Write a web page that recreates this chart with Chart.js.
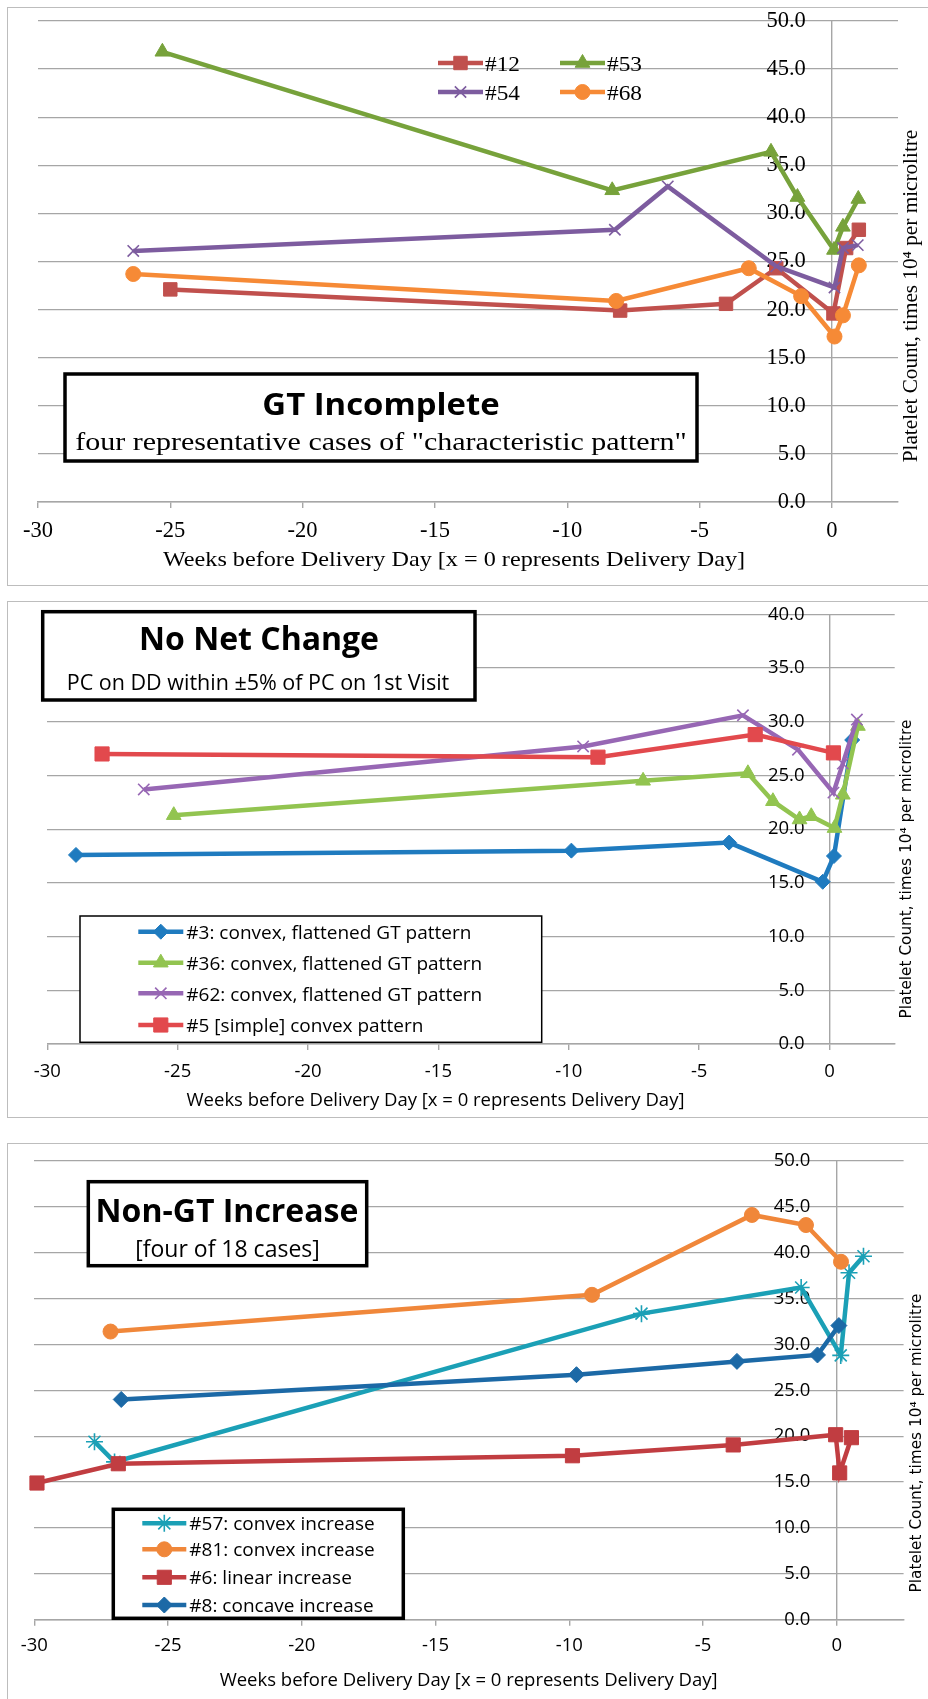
<!DOCTYPE html>
<html>
<head>
<meta charset="utf-8">
<script src="https://cdn.jsdelivr.net/npm/chart.js@4.4.1/dist/chart.umd.min.js"></script>
<style>
  html, body { margin: 0; padding: 0; background: #fff; width: 928px; height: 1699px; overflow: hidden; }
  .frame { position: absolute; border: 1.5px solid #bdbdbd; box-sizing: border-box; }
  canvas { position: absolute; left: 0; }
</style>
</head>
<body>
<div class="frame" style="left:7px;top:7px;width:940px;height:579px"></div>
<div class="frame" style="left:7px;top:601px;width:940px;height:517px"></div>
<div class="frame" style="left:7px;top:1143px;width:940px;height:570px"></div>
<canvas id="c1" width="928" height="590" style="top:0"></canvas>
<canvas id="c2" width="928" height="540" style="top:590px"></canvas>
<canvas id="c3" width="928" height="569" style="top:1130px"></canvas>
<script>
// ─── Data ─────────────────────────────────────────────────────────────────────

const xTicks = [-30, -25, -20, -15, -10, -5, 0];
const yTicksGT = [0, 5, 10, 15, 20, 25, 30, 35, 40, 45, 50];
const yTicksNC = [0, 5, 10, 15, 20, 25, 30, 35, 40];
const yTicksNG = [0, 5, 10, 15, 20, 25, 30, 35, 40, 45, 50];

// GT Incomplete
const gtLabels = ['#12', '#53', '#54', '#68'];
const gt12X = [-25.0, -8.0, -4.0, -2.1, 0.06, 0.54, 1.02];
const gt12Y = [22.1, 19.9, 20.6, 24.3, 19.6, 26.4, 28.3];
const gt53X = [-25.3, -8.3, -2.3, -1.3, 0.08, 0.42, 1.0];
const gt53Y = [46.8, 32.4, 36.4, 31.7, 26.2, 28.6, 31.5];
const gt54X = [-26.4, -8.2, -6.2, -2.1, 0.1, 0.42, 0.98];
const gt54Y = [26.1, 28.3, 32.8, 24.5, 22.3, 26.4, 26.7];
const gt68X = [-26.4, -8.15, -3.14, -1.16, 0.1, 0.42, 1.02];
const gt68Y = [23.7, 20.9, 24.3, 21.4, 17.2, 19.4, 24.6];

// No Net Change
const ncLabels = ['#3: convex, flattened GT pattern', '#36: convex, flattened GT pattern',
  '#62: convex, flattened GT pattern', '#5 [simple] convex pattern'];
const nc3X = [-28.9, -9.9, -3.85, -0.26, 0.17, 0.87];
const nc3Y = [17.6, 18.0, 18.75, 15.1, 17.5, 28.3];
const nc36X = [-25.15, -7.15, -3.13, -2.17, -1.15, -0.7, 0.19, 0.51, 1.09];
const nc36Y = [21.3, 24.5, 25.2, 22.6, 20.9, 21.2, 20.1, 23.2, 29.6];
const nc62X = [-26.3, -9.45, -3.32, -1.21, 0.15, 0.51, 1.05];
const nc62Y = [23.7, 27.7, 30.6, 27.4, 23.4, 26.1, 30.2];
const nc5X = [-27.9, -8.88, -2.85, 0.15];
const nc5Y = [27.0, 26.7, 28.8, 27.1];

// Non-GT Increase
const ngLabels = ['#57: convex increase', '#81: convex increase', '#6: linear increase', '#8: concave increase'];
const ng57X = [-27.75, -27.0, -7.3, -1.33, 0.15, 0.46, 1.0];
const ng57Y = [19.4, 17.2, 33.35, 36.2, 28.8, 37.8, 39.6];
const ng81X = [-27.15, -9.15, -3.17, -1.15, 0.16];
const ng81Y = [31.4, 35.4, 44.1, 43.0, 39.0];
const ng6X = [-29.9, -26.86, -9.88, -3.87, -0.04, 0.11, 0.55];
const ng6Y = [14.9, 17.0, 17.87, 19.05, 20.16, 16.0, 19.84];
const ng8X = [-26.75, -9.73, -3.73, -0.72, 0.08];
const ng8Y = [24.0, 26.7, 28.15, 28.85, 32.05];

const yTitle = 'Platelet Count, times 10\u2074 per microlitre';
const xTitle = 'Weeks before Delivery Day [x = 0 represents Delivery Day]';

// ─── Helpers ──────────────────────────────────────────────────────────────────

const GRID = '#a6a6a6';
const SERIF = '"Liberation Serif"';
const SANS = '"Open Sans"';
const XAXIS_H = 40;

function pts(xs, ys) {
  return xs.map((x, i) => ({ x, y: ys[i] }));
}

function series(label, xs, ys, color, style, radius, bw) {
  return {
    label, data: pts(xs, ys),
    borderColor: color, backgroundColor: color,
    pointBackgroundColor: color, pointBorderColor: color,
    borderWidth: 4.5, tension: 0, clip: false,
    pointStyle: style, pointRadius: radius, pointHoverRadius: radius,
    pointBorderWidth: bw || 1,
  };
}

// boxes, texts and the legend drawn on top of the chart
const overlay = {
  id: 'overlay',
  // y tick labels sit just left of the x = 0 line, as in Excel
  afterLayout(chart, args, o) {
    const y = chart.scales.y;
    const px = chart.scales.x.getPixelForValue(0) - o.yGap;
    y.left = px - 80;
    y.right = px;
  },
  afterDraw(chart, args, o) {
    const ctx = chart.ctx;
    ctx.save();
    (o.boxes || []).forEach(b => {
      ctx.fillStyle = '#fff';
      ctx.fillRect(b.x, b.y, b.w, b.h);
      ctx.lineWidth = b.lw;
      ctx.strokeStyle = '#000';
      ctx.strokeRect(b.x, b.y, b.w, b.h);
    });
    ctx.fillStyle = '#000';
    (o.texts || []).forEach(t => {
      ctx.font = t.font;
      ctx.textAlign = t.align || 'center';
      ctx.textBaseline = t.base || 'alphabetic';
      ctx.save();
      ctx.translate(t.x, t.y);
      if (t.rot) ctx.rotate(t.rot);
      if (t.sx) ctx.scale(t.sx, 1);
      ctx.fillText(t.text, 0, 0);
      ctx.restore();
    });
    const lg = o.legend;
    chart.data.datasets.forEach((ds, i) => {
      const e = lg.items[i];
      ctx.strokeStyle = ds.borderColor;
      ctx.fillStyle = ds.borderColor;
      ctx.lineWidth = 4.5;
      ctx.beginPath();
      ctx.moveTo(e.x, e.y);
      ctx.lineTo(e.x + lg.len, e.y);
      ctx.stroke();
      ctx.lineWidth = ds.pointBorderWidth;
      Chart.helpers.drawPoint(ctx, { pointStyle: ds.pointStyle, radius: ds.pointRadius, rotation: 0, borderWidth: ds.pointBorderWidth }, e.x + lg.len / 2, e.y);
      ctx.fillStyle = '#000';
      ctx.font = lg.font;
      ctx.textAlign = 'left';
      ctx.textBaseline = 'alphabetic';
      ctx.save();
      ctx.translate(e.x + lg.len + lg.gap, e.y + lg.dy);
      ctx.scale(lg.sx || 1, 1);
      ctx.fillText(ds.label, 0, 0);
      ctx.restore();
    });
    ctx.restore();
  },
};

function makeChart(id, cfg) {
  const canvas = document.getElementById(id);
  const H = canvas.height;
  const tickFont = { family: cfg.tickFamily, size: cfg.tickSize };
  cfg.datasets.forEach((d, i) => { d.order = cfg.datasets.length - i; });
  return new Chart(canvas, {
    type: 'line',
    data: { datasets: cfg.datasets },
    plugins: [overlay],
    options: {
      responsive: false,
      animation: false,
      events: [],
      layout: {
        padding: { left: cfg.area.l, right: 928 - cfg.area.r, top: cfg.area.t, bottom: H - cfg.area.b - XAXIS_H },
      },
      plugins: {
        legend: { display: false },
        tooltip: { enabled: false },
        overlay: cfg.overlay,
      },
      scales: {
        x: {
          type: 'linear', min: -30, max: 2.5,
          afterBuildTicks: ax => { ax.ticks = xTicks.map(v => ({ value: v })); },
          afterFit: ax => { ax.height = XAXIS_H; },
          // only the x = 0 line is drawn across the plot
          grid: {
            drawOnChartArea: true, drawTicks: true, tickLength: 6, lineWidth: 1.4,
            color: c => (c.tick && c.tick.value === 0 ? GRID : 'rgba(0,0,0,0)'),
            tickColor: GRID,
          },
          border: { display: true, color: GRID, width: 1.5 },
          ticks: { font: tickFont, color: '#000', padding: cfg.xPad, maxRotation: 0, callback: v => String(v) },
        },
        y: {
          type: 'linear', min: 0, max: cfg.yMax,
          position: 'left',
          afterFit: ax => { ax.width = 0; },
          afterBuildTicks: ax => { ax.ticks = cfg.yTicks.map(v => ({ value: v })); },
          grid: { color: GRID, lineWidth: 1.3, drawTicks: false },
          border: { display: false },
          ticks: { font: tickFont, color: '#000', padding: 0, callback: v => v.toFixed(1) },
        },
      },
    },
  });
}

// ─── Chart 1: GT Incomplete ───────────────────────────────────────────────────

makeChart('c1', {
  area: { l: 38, r: 898, t: 21, b: 502 },
  yMax: 50, yTicks: yTicksGT,
  tickFamily: SERIF, tickSize: 22.5, xPad: 10,
  datasets: [
    series(gtLabels[0], gt12X, gt12Y, '#c0504d', 'rect', 9.5),
    series(gtLabels[1], gt53X, gt53Y, '#77a23b', 'triangle', 8.5),
    series(gtLabels[2], gt54X, gt54Y, '#7d5c9f', 'crossRot', 8, 1.6),
    series(gtLabels[3], gt68X, gt68Y, '#f68a36', 'circle', 7.5),
  ],
  overlay: {
    yGap: 26,
    boxes: [{ x: 65, y: 374, w: 632, h: 87, lw: 3.5 }],
    texts: [
      { text: 'GT Incomplete', font: 'bold 31px ' + SANS, x: 381, y: 415, sx: 1.06 },
      { text: 'four representative cases of "characteristic pattern"', font: '25px ' + SERIF, x: 381, y: 450, sx: 1.2 },
      { text: xTitle, font: '22px ' + SERIF, x: 454, y: 560.5, base: 'middle', sx: 1.1 },
      { text: yTitle, font: '21px ' + SERIF, x: 911, y: 296, base: 'middle', rot: -Math.PI / 2, sx: 1.01 },
    ],
    legend: {
      font: '22px ' + SERIF, len: 45, gap: 2, dy: 7.7, sx: 1.06,
      items: [{ x: 438, y: 63 }, { x: 560, y: 63 }, { x: 438, y: 92 }, { x: 560, y: 92 }],
    },
  },
});

// ─── Chart 2: No Net Change ───────────────────────────────────────────────────

makeChart('c2', {
  area: { l: 47.3, r: 894.7, t: 24.3, b: 454 },
  yMax: 40, yTicks: yTicksNC,
  tickFamily: SANS, tickSize: 18.5, xPad: 11,
  datasets: [
    series(ncLabels[0], nc3X, nc3Y, '#1f7bbf', 'rectRot', 7.5),
    series(ncLabels[1], nc36X, nc36Y, '#92c450', 'triangle', 8.5),
    series(ncLabels[2], nc62X, nc62Y, '#9767b4', 'crossRot', 8, 1.6),
    series(ncLabels[3], nc5X, nc5Y, '#e2494d', 'rect', 10),
  ],
  overlay: {
    yGap: 25,
    boxes: [
      { x: 42.7, y: 21.7, w: 432.3, h: 88.3, lw: 3.5 },
      { x: 80, y: 326, w: 461.7, h: 126.3, lw: 1.5 },
    ],
    texts: [
      { text: 'No Net Change', font: 'bold 32px ' + SANS, x: 259, y: 60 },
      { text: 'PC on DD within \u00b15% of PC on 1st Visit', font: '21.5px ' + SANS, x: 258, y: 100 },
      { text: xTitle, font: '18.5px ' + SANS, x: 435.5, y: 510.5, base: 'middle' },
      { text: yTitle, font: '15.3px "DejaVu Sans"', x: 907, y: 279, base: 'middle', rot: -Math.PI / 2 },
    ],
    legend: {
      font: '19px ' + SANS, len: 45, gap: 3, dy: 7.3,
      items: [{ x: 138.3, y: 341.7 }, { x: 138.3, y: 372.7 }, { x: 138.3, y: 403.3 }, { x: 138.3, y: 435 }],
    },
  },
});

// ─── Chart 3: Non-GT Increase ─────────────────────────────────────────────────

makeChart('c3', {
  area: { l: 34.3, r: 903.6, t: 30.8, b: 489.8 },
  yMax: 50, yTicks: yTicksNG,
  tickFamily: SANS, tickSize: 18.5, xPad: 9,
  datasets: [
    series(ngLabels[0], ng57X, ng57Y, '#1ba0b6', 'star', 8.5, 1.6),
    series(ngLabels[1], ng81X, ng81Y, '#f0873a', 'circle', 7.5),
    series(ngLabels[2], ng6X, ng6Y, '#c13d41', 'rect', 10),
    series(ngLabels[3], ng8X, ng8Y, '#1c69a6', 'rectRot', 8),
  ],
  overlay: {
    yGap: 26.5,
    boxes: [
      { x: 88.3, y: 51.7, w: 278.4, h: 84, lw: 3.5 },
      { x: 113.3, y: 379.3, w: 290, h: 109, lw: 3.5 },
    ],
    texts: [
      { text: 'Non-GT Increase', font: 'bold 32px ' + SANS, x: 227, y: 91.7 },
      { text: '[four of 18 cases]', font: '23px ' + SANS, x: 227.5, y: 126.7 },
      { text: xTitle, font: '18.5px ' + SANS, x: 468.6, y: 551, base: 'middle' },
      { text: yTitle, font: '15.3px "DejaVu Sans"', x: 917, y: 313, base: 'middle', rot: -Math.PI / 2 },
    ],
    legend: {
      font: '19px ' + SANS, len: 44, gap: 3, dy: 6.8,
      items: [{ x: 142.3, y: 393.3 }, { x: 142.3, y: 419.3 }, { x: 142.3, y: 447.3 }, { x: 142.3, y: 475 }],
    },
  },
});
</script>
</body>
</html>
